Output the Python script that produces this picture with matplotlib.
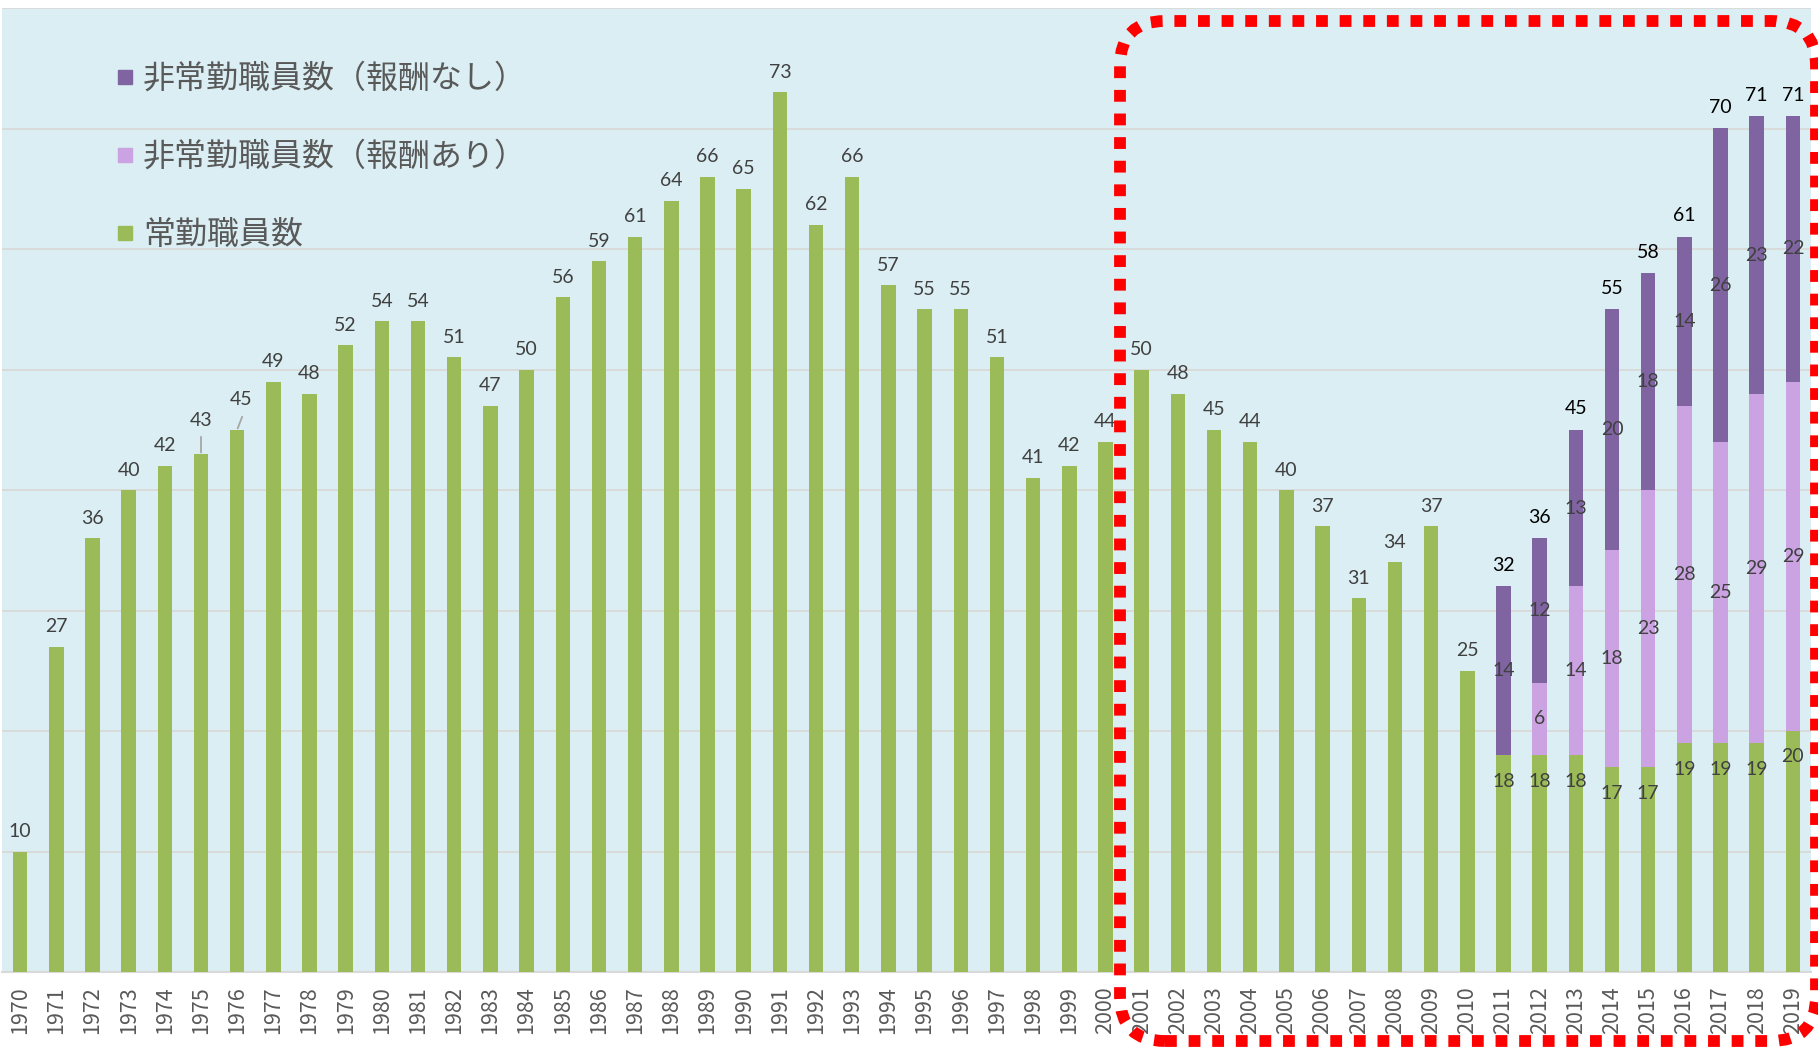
import matplotlib
matplotlib.use("Agg")
import matplotlib.pyplot as plt
from matplotlib.patches import FancyBboxPatch
from matplotlib.lines import Line2D
from matplotlib.transforms import Affine2D
import numpy as np

plt.rcParams['font.family'] = ['Noto Sans CJK JP', 'DejaVu Sans']

years = list(range(1970, 2020))
regular = [10, 27, 36, 40, 42, 43, 45, 49, 48, 52, 54, 54, 51, 47, 50, 56, 59, 61, 64, 66,
           65, 73, 62, 66, 57, 55, 55, 51, 41, 42, 44, 50, 48, 45, 44, 40, 37, 31, 34, 37,
           25, 18, 18, 18, 17, 17, 19, 19, 19, 20]
paid_years = [2011, 2012, 2013, 2014, 2015, 2016, 2017, 2018, 2019]
paid = [0, 6, 14, 18, 23, 28, 25, 29, 29]
unpaid = [14, 12, 13, 20, 18, 14, 26, 23, 22]

labels_legend = ['非常勤職員数（報酬なし）', '非常勤職員数（報酬あり）', '常勤職員数']
c_green = '#9BBB59'
c_light = '#CBA2E2'
c_dark = '#8064A2'

W, H = 1818, 1049
fig = plt.figure(figsize=(W / 100, H / 100), dpi=100)
fig.patch.set_facecolor('white')
ax = fig.add_axes([2 / W, 1 - 972 / H, 1809 / W, 964 / H])
ax.set_facecolor('#DAEEF3')

n = len(years)
x = np.arange(n)
idx = {y: i for i, y in enumerate(years)}
reg = np.array(regular, dtype=float)
paid_full = np.zeros(n)
unpaid_full = np.zeros(n)
for y, p, u in zip(paid_years, paid, unpaid):
    paid_full[idx[y]] = p
    unpaid_full[idx[y]] = u

bw = 0.4
ax.bar(x, reg, bw, color=c_green, zorder=3)
ax.bar(x, paid_full, bw, bottom=reg, color=c_light, zorder=3)
ax.bar(x, unpaid_full, bw, bottom=reg + paid_full, color=c_dark, zorder=3)

ax.set_xlim(-0.5, n - 0.5)
ax.set_ylim(0, 80)
ax.set_yticks(np.arange(10, 81, 10))
ax.yaxis.grid(True, color='#D9D9D9', lw=1.3, zorder=1)
ax.tick_params(axis='y', left=False, labelleft=False)
ax.set_xticks(x)
ax.set_xticklabels([str(y) for y in years], rotation=90, fontsize=15.5,
                   color='#595959', family=['Noto Sans CJK JP', 'DejaVu Sans'])
ax.tick_params(axis='x', length=0, pad=10)
for s in ['left', 'right', 'top']:
    ax.spines[s].set_visible(False)
ax.spines['bottom'].set_color('#D9D9D9')
ax.spines['bottom'].set_linewidth(1.5)

lab_font = dict(fontsize=14, family=['Lato', 'DejaVu Sans'])
stacked = set(idx[y] for y in paid_years)
for i in range(n):
    if i not in stacked:
        if years[i] == 1975:
            ax.annotate(str(regular[i]), (x[i], reg[i]), xytext=(0, 33),
                        textcoords='offset pixels', ha='center', va='center',
                        color='#404040', zorder=5, **lab_font)
            ax.annotate('', (x[i], reg[i]), xytext=(0, 17), textcoords='offset pixels',
                        arrowprops=dict(arrowstyle='-', color='#A6A6A6', lw=1.3,
                                        shrinkA=0, shrinkB=1))
        elif years[i] == 1976:
            ax.annotate(str(regular[i]), (x[i], reg[i]), xytext=(4, 30),
                        textcoords='offset pixels', ha='center', va='center',
                        color='#404040', zorder=5, **lab_font)
            ax.annotate('', (x[i], reg[i]), xytext=(5, 13), textcoords='offset pixels',
                        arrowprops=dict(arrowstyle='-', color='#A6A6A6', lw=1.3,
                                        shrinkA=0, shrinkB=1))
        else:
            ax.annotate(str(regular[i]), (x[i], reg[i]), xytext=(0, 20),
                        textcoords='offset pixels', ha='center', va='center',
                        color='#404040', zorder=5, **lab_font)
    else:
        ax.annotate(str(regular[i]), (x[i], reg[i]), xytext=(0, -26),
                    textcoords='offset pixels', ha='center', va='center',
                    color='#404040', zorder=5, **lab_font)
        if paid_full[i] > 0:
            ax.text(x[i], reg[i] + paid_full[i] / 2, str(int(paid_full[i])), ha='center',
                    va='center', color='#404040', zorder=5, **lab_font)
        if unpaid_full[i] > 0:
            ax.text(x[i], reg[i] + paid_full[i] + unpaid_full[i] / 2, str(int(unpaid_full[i])),
                    ha='center', va='center', color='#404040', zorder=5, **lab_font)
        total = reg[i] + paid_full[i] + unpaid_full[i]
        ax.annotate(str(int(total)), (x[i], total), xytext=(0, 21),
                    textcoords='offset pixels', ha='center', va='center',
                    color='black', zorder=5, **lab_font)

handles = [Line2D([], [], marker='s', ls='', color=c, markersize=10.5)
           for c in [c_dark, c_light, c_green]]
leg = fig.legend(handles, labels_legend, loc='upper left',
                 bbox_to_anchor=(116 / W, 1 - 63 / H), bbox_transform=fig.transFigure,
                 frameon=False, fontsize=23, labelcolor='#595959',
                 handlelength=0.55, handletextpad=0.3, labelspacing=1.44,
                 borderpad=0, borderaxespad=0)

# red dotted rounded frame (pixel coordinates, y measured from bottom)
px = Affine2D().scale(1 / W, 1 / H) + fig.transFigure
left, right, top, bottom = 1120, 1816, H - 21, H - 1041
frame = FancyBboxPatch((left, bottom), right - left, top - bottom,
                       boxstyle='round,pad=0,rounding_size=45',
                       transform=px, fill=False, edgecolor='#FF0000',
                       linewidth=8.5, linestyle=(0, (1, 1)), zorder=10)
frame.set_capstyle('butt')
fig.add_artist(frame)

fig.savefig('out.png', dpi=100, facecolor='white')
